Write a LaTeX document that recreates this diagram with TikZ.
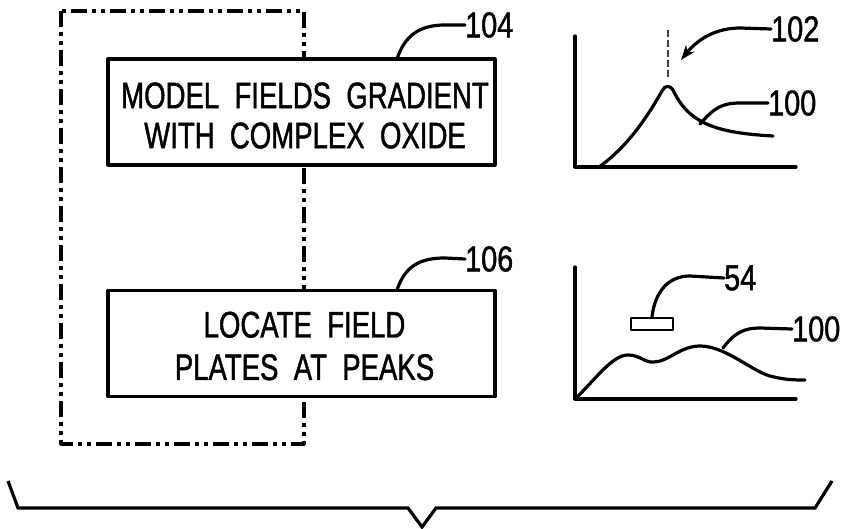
\documentclass[tikz,border=0pt]{standalone}
\usepackage{fontspec}
\setmainfont{Liberation Sans}[FakeStretch=0.745,FakeBold=1.2]
\newfontfamily\numfont{Liberation Sans}[FakeStretch=0.8,FakeBold=1.2]
\usetikzlibrary{arrows.meta}
\begin{document}
\begin{tikzpicture}[x=1pt,y=-1pt,line join=round,line cap=round,
  stepbox/.style={draw,line width=3.2pt,fill=white,minimum width=387pt,minimum height=106pt,inner sep=0pt},
  boxtext/.style={align=center,inner sep=0pt,font=\fontsize{37}{40}\selectfont},
  lbl/.style={anchor=west,inner sep=0pt,font=\numfont\fontsize{36}{40}\selectfont},
  lead/.style={line width=3.2pt},
  axis/.style={line width=3.2pt},
  dashdot/.style={line width=3.1pt,line cap=butt,dash pattern=on 16pt off 5pt on 4pt off 5pt on 4pt off 5pt}]
\useasboundingbox (0,0) rectangle (845,529);
% dash-dot enclosure
\draw[dashdot] (61,11) rectangle (304,444);
% boxes
\node[stepbox] (box1) at (301.5,112) {};
\node[boxtext] (t1) at (305,115.5) {MODEL\ \ FIELDS\ \ GRADIENT\\WITH\ \ COMPLEX\ \ OXIDE};
\node[stepbox] (box2) at (301.5,343.5) {};
\node[boxtext,font=\fontsize{37}{42.5}\selectfont] (t2) at (304.5,346) {LOCATE\ \ FIELD\\PLATES\ \ AT\ \ PEAKS};
% labels
\node[lbl] (l104) at (465,25) {104};
\node[lbl] (l106) at (465,259) {106};
\node[lbl] (l102) at (771,29) {102};
\node[lbl] (l100a) at (768,103) {100};
\node[lbl] (l54) at (724,278) {54};
\node[lbl] (l100b) at (792,329) {100};
% leaders for boxes
\coordinate (b1t) at (397,59);
\coordinate (b2t) at (397,290);
\draw[lead] (b1t) .. controls (405,35) and (420,25) .. (445,25) -- (l104.west);
\draw[lead] (b2t) .. controls (405,266) and (420,258) .. (445,258) -- (l106.west);
% graph 1
\draw[axis] (575,36) -- (575,167) -- (796,167);
\draw[lead] (599,167) .. controls (630,145) and (650,112) .. (662,91) .. controls (665,85) and (670,84) .. (674,92) .. controls (690,125) and (720,133) .. (773,136);
\draw[line width=1.4pt,line cap=butt,black!75,dash pattern=on 7pt off 3pt] (668,30) -- (668,77);
\coordinate (a102) at (681,60);
\draw[lead,-{Stealth[length=15pt,width=11pt]}] (l102.west) -- (740,28) .. controls (715,28) and (697,40) .. (a102);
\coordinate (c100a) at (700,124);
\draw[lead] (c100a) .. controls (714,108) and (722,103) .. (740,103) -- (l100a.west);
% graph 2
\draw[axis] (575,267) -- (575,399) -- (796,399);
\draw[lead] (575,399) .. controls (595,380) and (612,355) .. (628,355) .. controls (640,355) and (645,363) .. (654,362) .. controls (668,362) and (680,346) .. (700,346) .. controls (725,346) and (750,370) .. (770,376) .. controls (785,380) and (795,380) .. (805,380);
\node[draw,line width=2.8pt,minimum width=42pt,minimum height=12pt,inner sep=0pt] (plate) at (652,324) {};
\draw[lead] (plate.north) .. controls (655,292) and (668,276) .. (690,276) -- (l54.west);
\coordinate (c100b) at (723,348);
\draw[lead] (c100b) .. controls (735,332) and (745,328) .. (760,328) -- (l100b.west);
% brace
\coordinate (br) at (422,527);
\draw[line width=3.2pt,line cap=butt,line join=miter] (8,481) -- (18,508) -- (408,508) -- (br) -- (436,508) -- (815,508) -- (832,481);
\end{tikzpicture}
\end{document}
